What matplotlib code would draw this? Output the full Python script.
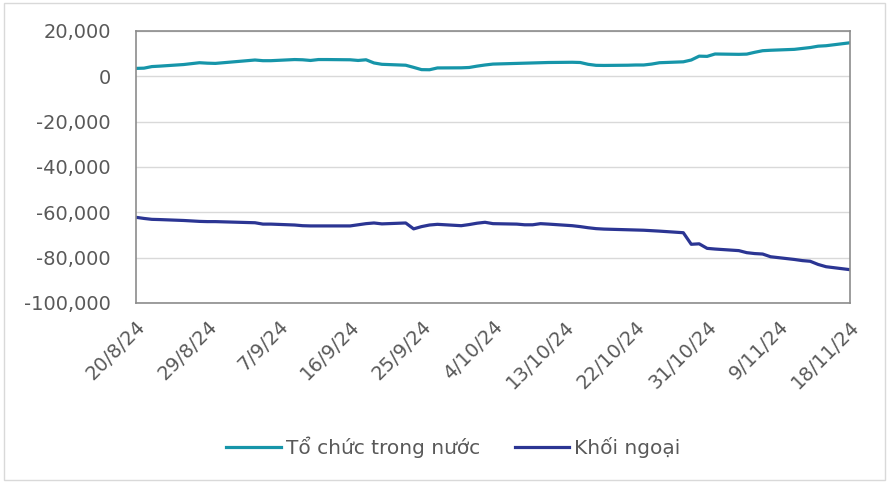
import matplotlib
matplotlib.use("Agg")
import matplotlib.pyplot as plt
from matplotlib.patches import Rectangle
from matplotlib.ticker import FuncFormatter, MultipleLocator
import matplotlib.transforms as mtransforms
import pandas as pd

# trading days (HOSE), 2/9 and 3/9 are holidays
dates = pd.bdate_range("2024-08-20", "2024-11-18", freq="C",
                       holidays=["2024-09-02", "2024-09-03"])

to_chuc = [3500, 3600, 4300, 4500, 5200, 5600, 6000, 5800, 5700,
           7200, 6900, 6900, 7400, 7300, 7000, 7400, 7400, 7300, 7000,
           7300, 5900, 5300, 4900, 3950, 2950, 2900, 3700, 3750,
           3900, 4500, 5000, 5400, 5700, 5800, 5900, 6000, 6100, 6200,
           6100, 5300, 4850, 4800, 4900, 5000, 5000, 5400, 6000, 6400,
           7200, 8900, 8800,
           9850, 9700, 9800, 10600, 11300, 11500, 11900, 12300, 12700,
           13300, 13500, 14800]
khoi_ngoai = [-62200, -62700, -63100, -63200, -63600, -63800, -64000, -64100, -64100,
              -64600, -65200, -65200, -65600, -65900, -66000, -66000, -66000, -66000,
              -65500, -65000, -64700, -65100, -64700, -67300, -66300, -65600, -65300,
              -65900,
              -65400, -64800, -64400, -65000, -65200, -65500, -65500, -65000, -65200,
              -65900, -66300, -66800, -67200, -67400, -67700, -67800, -67900, -68100,
              -68300, -69000, -74100, -73900, -75900,
              -76200, -76900, -77800, -78200, -78400, -79600, -80800, -81300, -81600,
              -83000, -84000, -85300]
labels = ["Tổ chức trong nước", "Khối ngoại"]
colors = ["#1695A9", "#2B3593"]

plt.rcParams["font.family"] = ["DejaVu Sans"]
txt = "#595959"

fig = plt.figure(figsize=(8.89, 4.82), dpi=100)
ax = fig.add_axes([0.153, 0.3714, 0.803, 0.5643])
fig.patches.append(Rectangle((0.004, 0.004), 0.992, 0.99, transform=fig.transFigure,
                             fill=False, edgecolor="#d9d9d9", linewidth=1))

ax.plot(dates, to_chuc, color=colors[0], lw=2.3, label=labels[0])
ax.plot(dates, khoi_ngoai, color=colors[1], lw=2.3, label=labels[1])

ax.set_ylim(-100000, 20000)
ax.yaxis.set_major_locator(MultipleLocator(20000))
ax.yaxis.set_major_formatter(FuncFormatter(lambda v, p: f"{v:,.0f}"))
ax.grid(axis="y", color="#d9d9d9", lw=1)
ax.set_axisbelow(True)

ax.set_xlim(dates[0], dates[-1])
ticks = pd.date_range("2024-08-20", "2024-11-18", freq="9D")
ax.set_xticks(ticks)
ax.set_xticklabels([f"{d.day}/{d.month}/{d.strftime('%y')}" for d in ticks],
                   rotation=45, ha="right", rotation_mode="anchor")
shift = mtransforms.ScaledTranslation(0.04, 0, fig.dpi_scale_trans)
for lab in ax.get_xticklabels():
    lab.set_transform(lab.get_transform() + shift)

for s in ax.spines.values():
    s.set_color("#8c8c8c")
    s.set_linewidth(1.2)
ax.tick_params(length=0, labelsize=14, colors=txt)
ax.tick_params(axis="x", pad=10)
ax.tick_params(axis="y", pad=18)

leg = fig.legend(loc="center", bbox_to_anchor=(0.51, 0.072), ncol=2, frameon=False,
                 handlelength=2.7, handletextpad=0.25, columnspacing=1.75,
                 prop={"family": ["DejaVu Sans"], "size": 14.5})
for t in leg.get_texts():
    t.set_color(txt)

fig.savefig("out.png", dpi=100)
